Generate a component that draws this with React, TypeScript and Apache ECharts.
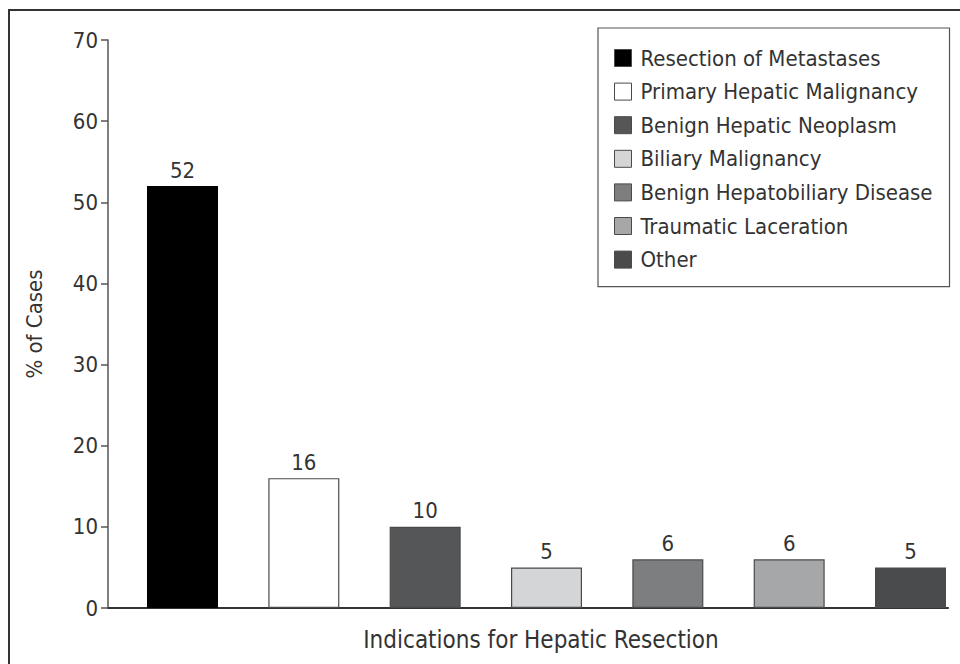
import React, { useEffect, useRef } from "react";
import * as echarts from "echarts";

const categories = [
  "Resection of Metastases",
  "Primary Hepatic Malignancy",
  "Benign Hepatic Neoplasm",
  "Biliary Malignancy",
  "Benign Hepatobiliary Disease",
  "Traumatic Laceration",
  "Other",
];
const percentValues = [52, 16, 10, 5, 6, 6, 5];
const yTicks = [0, 10, 20, 30, 40, 50, 60, 70];

const barColors = ["#000000", "#ffffff", "#555658", "#d3d5d7", "#7c7e80", "#a6a7a9", "#4a4b4c"];
const FONT = "'Liberation Sans Narrow', 'DejaVu Sans Condensed', 'Roboto', sans-serif";

export default function App() {
  const ref = useRef<HTMLDivElement>(null);
  useEffect(() => {
    document.body.style.margin = "0";
    const chart = echarts.init(ref.current!, null, { renderer: "svg" });
    const series = categories.map((name, i) => ({
      name,
      type: "bar",
      barWidth: 71,
      barGap: "-100%",
      data: [[i, percentValues[i]]],
      itemStyle: {
        color: barColors[i],
        borderColor: i === 0 ? "#000" : "#4a4a4a",
        borderWidth: i === 0 ? 0 : 1.2,
      },
      label: {
        show: true,
        position: "top",
        distance: 5,
        formatter: (p: any) => String(p.value[1]),
        fontFamily: FONT,
        fontSize: 22,
        color: "#333",
      },
    }));
    chart.setOption({
      animation: false,
      backgroundColor: "#fff",
      textStyle: { fontFamily: FONT },
      graphic: [
        {
          type: "rect",
          shape: { x: 9, y: 10, width: 980, height: 700 },
          style: { fill: "none", stroke: "#333", lineWidth: 2 },
          z: 100,
        },
        {
          type: "text",
          x: 541,
          y: 640,
          style: {
            text: "Indications for Hepatic Resection",
            fontFamily: FONT,
            fontSize: 24,
            fill: "#333",
            align: "center",
            verticalAlign: "middle",
          },
        },
      ],
      legend: {
        orient: "vertical",
        left: 598,
        top: 28,
        data: categories,
        itemWidth: 17,
        itemHeight: 17,
        itemGap: 11.6,
        padding: [19, 17, 16, 16],
        borderColor: "#555",
        borderWidth: 1.2,
        icon: "rect",
        itemStyle: { borderColor: "#4a4a4a", borderWidth: 1 },
        textStyle: { fontFamily: FONT, fontSize: 22, color: "#333", lineHeight: 21.5, padding: [0, 0, 0, 4] },
        selectedMode: false,
      },
      grid: { left: 108, right: 12, top: 40, bottom: 56 },
      xAxis: {
        type: "value",
        min: -0.614,
        max: 6.309,
        splitLine: { show: false },
        axisLabel: { show: false },
        axisTick: { show: false },
        axisLine: { show: true, onZero: false, lineStyle: { color: "#333", width: 2 } },
      },
      yAxis: {
        type: "value",
        min: yTicks[0],
        max: yTicks[yTicks.length - 1],
        interval: 10,
        name: "% of Cases",
        nameLocation: "middle",
        nameGap: 63,
        nameRotate: 90,
        nameTextStyle: { fontFamily: FONT, fontSize: 22, color: "#333" },
        splitLine: { show: false },
        axisLine: { show: true, onZero: false, lineStyle: { color: "#555", width: 1.5 } },
        axisTick: { show: true, length: 7, lineStyle: { color: "#555", width: 1.5 } },
        axisLabel: { fontFamily: FONT, fontSize: 22, color: "#333", margin: 10 },
      },
      series,
    });
    return () => chart.dispose();
  }, []);
  return <div ref={ref} style={{ width: 960, height: 664 }} />;
}
